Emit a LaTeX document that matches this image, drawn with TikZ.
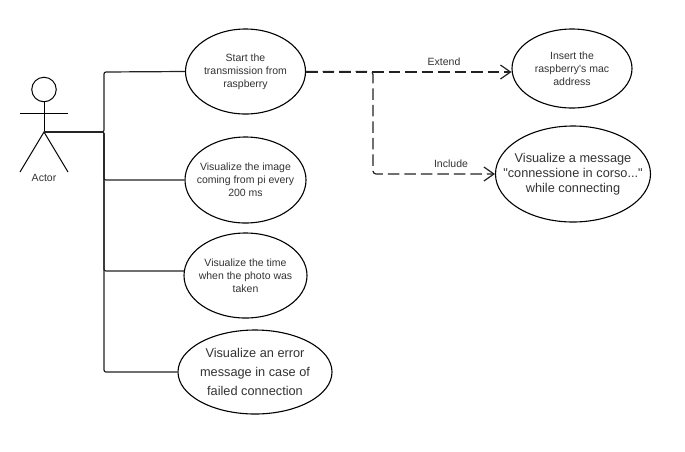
\documentclass[tikz,border=0pt]{standalone}
\usepackage{fontspec}
\setmainfont{Liberation Sans}
\newfontfamily\plainsans{Liberation Sans}
\usetikzlibrary{shapes.geometric,arrows.meta}
\definecolor{txt}{HTML}{333333}
\definecolor{lne}{HTML}{222222}
\tikzset{
  usecase/.style={ellipse,draw=black,line width=1.1pt,fill=white,inner sep=-30pt,align=center,text=txt},
  small/.style={font=\plainsans\fontsize{10.5}{13}\selectfont},
  big/.style={font=\plainsans\fontsize{12.75}{15.3}\selectfont},
  wide/.style={font=\plainsans\fontsize{12.75}{19}\selectfont},
  solidlink/.style={draw=lne,line width=1.2pt,rounded corners=2pt},
  dashlink/.style={draw=lne,line width=1.2pt,dash pattern=on 11.5pt off 5pt,rounded corners=3pt},
  openhead/.style={-{Straight Barb[length=10pt,width=14pt,line width=1.2pt]}},
  stick/.style={draw=black,line width=1pt},
  lbl/.style={font=\plainsans\fontsize{10.5}{13}\selectfont,text=txt,inner sep=0pt}
}
\begin{document}
\begin{tikzpicture}[x=1pt,y=-1pt]
\useasboundingbox[fill=white] (0,0) rectangle (685,451);
% actor
\node[circle,stick,minimum size=24.5pt,inner sep=0pt] (head) at (44,89.5) {};
\coordinate (hip) at (44,132);
\coordinate (armL) at (20,113.7);
\coordinate (armR) at (68,113.7);
\coordinate (legL) at (20,172);
\coordinate (legR) at (68,172);
\draw[stick] (head.south) -- (hip);
\draw[stick] (armL) -- (armR);
\draw[stick] (legL) -- (hip) -- (legR);
\node[lbl] (actor) at (44,178) {Actor};
% use cases
\node[usecase,small,minimum width=120pt,minimum height=85pt] (e1) at (245.5,71.5) {Start the\\transmission from\\raspberry};
\node[usecase,small,minimum width=121pt,minimum height=86pt] (e2) at (245.5,180) {Visualize the image\\coming from pi every\\200 ms};
\node[usecase,small,minimum width=123pt,minimum height=85pt] (e3) at (245.5,275.5) {Visualize the time\\when the photo was\\taken};
\node[usecase,wide,minimum width=154pt,minimum height=84pt] (e4) at (255,372) {Visualize an error\\message in case of\\failed connection};
\node[usecase,small,minimum width=120pt,minimum height=79pt] (e5) at (572,68.5) {Insert the\\raspberry's mac\\address};
\node[usecase,big,minimum width=155pt,minimum height=96pt] (e6) at (573,174) {Visualize a message\\"connessione in corso..."\\while connecting};
% connectors
\coordinate (e3in) at (184.3,271);
\coordinate (e5in) at (511.5,72);
\draw[solidlink] (hip) -| (104,72) -- (e1.west);
\draw[solidlink] (hip) -| (104,180) -- (e2.west);
\draw[solidlink] (hip) -| (104,271) -- (e3in);
\draw[solidlink] (hip) -| (104,372) -- (e4.west);
\draw[dashlink,openhead] (e1.east |- e5in) -- (e5in);
\draw[dashlink,openhead] (e1.east) -- (373,71.5) -- (373,174) -- (e6.west);
\node[lbl] (ext) at (444,62) {Extend};
\node[lbl] (inc) at (451,164) {Include};
\end{tikzpicture}
\end{document}
